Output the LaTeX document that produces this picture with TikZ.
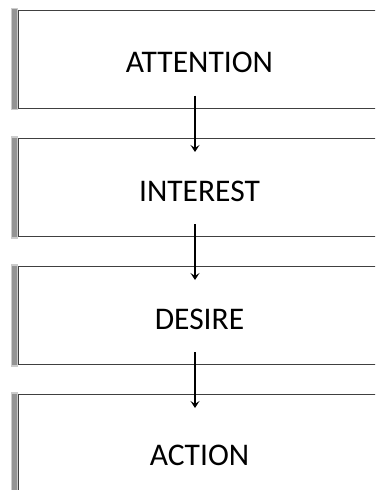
\documentclass[tikz,border=0pt]{standalone}
\usepackage{fontspec}
\setmainfont{Carlito}
\usetikzlibrary{positioning, arrows.meta}
\tikzset{
    stage/.style={rectangle, draw=black!75, fill=white, line width=1pt, minimum width=382pt, minimum height=98pt, font=\fontsize{31.5}{38}\selectfont, text height=27pt, text depth=0pt, execute at begin node={\hspace*{-19pt}}},
    laststage/.style={stage, minimum height=114pt},
    link/.style={->, >={Stealth[length=7pt, width=9pt, inset=3pt]}, line width=1.5pt},
    shade strip/.style={fill=black!42, draw=black!20, line width=1.5pt},
}

\begin{document}
\begin{tikzpicture}[node distance=29pt]
            \useasboundingbox (0,0) rectangle (375pt,-490pt);
            \clip (0,0) rectangle (375pt,-490pt);
            \node [stage] (att) at (209pt,-59pt) {ATTENTION};
            \node [stage] (int) [below = 29.5pt of att] {INTEREST};
            \node [stage] (des) [below = of int] {DESIRE};
            \node [laststage] (act) [below = of des] {ACTION};
            % grey strips on the left side of each box
            \foreach \b in {att, int, des, act}
                \fill[shade strip] ([xshift=-6pt, yshift=1pt]\b.north west) rectangle ([yshift=-1pt]\b.south west);
            \draw[link] ([xshift=-14pt, yshift=13pt]att.south) -- ([xshift=-14pt, yshift=-14pt]int.north);
            \draw[link] ([xshift=-14pt, yshift=13pt]int.south) -- ([xshift=-14pt, yshift=-14pt]des.north);
            \draw[link] ([xshift=-14pt, yshift=13pt]des.south) -- ([xshift=-14pt, yshift=-14pt]act.north);
        \end{tikzpicture}
\end{document}
